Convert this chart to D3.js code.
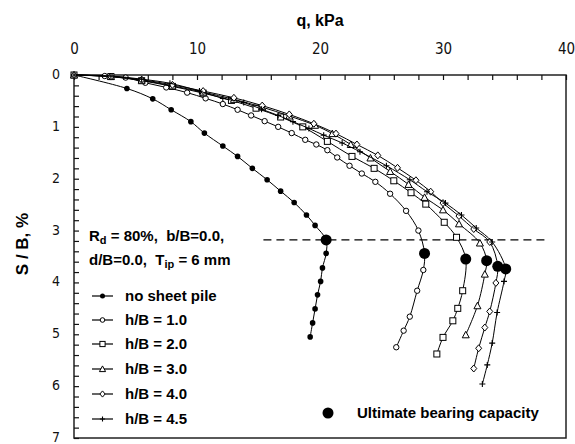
<!DOCTYPE html>
<html><head><meta charset="utf-8">
<script src="https://cdn.jsdelivr.net/npm/d3@7"></script>
<style>
body{margin:0;background:#fff;}
svg{display:block;}
text{white-space:pre;}
</style></head>
<body><svg id="c" width="575" height="444"></svg>
<script>
// ---- data ----
const xTicksMajor = [0, 10, 20, 30, 40];
const yTicksMajor = [0, 1, 2, 3, 4, 5, 6, 7];
const seriesNames = ["no sheet pile", "h/B = 1.0", "h/B = 2.0", "h/B = 3.0", "h/B = 4.0", "h/B = 4.5"];
const seriesMarkers = ["dot", "circle", "square", "triangle", "diamond", "plus"];

const q0 = [0, 4.3, 6.4, 7.9, 9.5, 10.6, 12.1, 13.3, 14.5, 15.7, 16.8, 17.9, 18.9, 19.6, 20.5, 20.5, 20.2, 20.05, 19.8, 19.6, 19.4, 19.2];
const s0 = [0, 0.26, 0.46, 0.67, 0.90, 1.12, 1.37, 1.57, 1.80, 2.02, 2.24, 2.46, 2.70, 2.90, 3.18, 3.44, 3.72, 3.98, 4.24, 4.51, 4.78, 5.05];

const q1 = [0, 2.5, 4.2, 5.8, 7.5, 9.2, 10.7, 12.1, 13.3, 14.4, 15.5, 16.6, 17.7, 18.8, 19.7, 20.6, 21.4, 22.4, 23.4, 24.5, 25.7, 27.0, 28.0, 28.5, 28.4, 27.9, 27.3, 26.8, 26.2];
const s1 = [0, 0.02, 0.05, 0.15, 0.24, 0.34, 0.45, 0.56, 0.67, 0.78, 0.89, 1.0, 1.12, 1.25, 1.34, 1.45, 1.59, 1.75, 1.90, 2.06, 2.29, 2.62, 3.0, 3.44, 3.76, 4.16, 4.66, 4.93, 5.25];

const q2 = [0, 3, 5.5, 8, 10.5, 12.8, 14.8, 16.8, 18.6, 20.6, 22.6, 24.4, 26.0, 27.4, 28.6, 30.1, 31.1, 31.85, 31.6, 31.2, 30.8, 30.0, 29.5];
const s2 = [0, 0.03, 0.11, 0.22, 0.35, 0.49, 0.64, 0.81, 1.0, 1.28, 1.57, 1.80, 2.04, 2.27, 2.49, 2.84, 3.13, 3.55, 4.16, 4.50, 4.74, 5.06, 5.38];

const q3 = [0, 3, 5.5, 8, 10.5, 13, 15.3, 17.5, 19.6, 21.0, 22.5, 24.1, 25.7, 27.2, 28.5, 30.0, 31.3, 33.0, 33.55, 33.4, 32.8, 31.85];
const s3 = [0, 0.03, 0.10, 0.21, 0.33, 0.47, 0.62, 0.79, 0.97, 1.13, 1.34, 1.60, 1.86, 2.11, 2.36, 2.60, 2.87, 3.24, 3.58, 3.84, 4.45, 5.01];

const q4 = [0, 3, 5.5, 8, 10.5, 13, 15.3, 17.5, 19.5, 21.3, 23.0, 24.7, 26.3, 27.8, 29.0, 30.0, 31.3, 32.5, 33.8, 34.45, 34.3, 33.8, 33.4, 32.9, 32.5];
const s4 = [0, 0.03, 0.09, 0.19, 0.31, 0.44, 0.59, 0.76, 0.94, 1.13, 1.34, 1.55, 1.79, 2.03, 2.25, 2.47, 2.72, 2.97, 3.22, 3.69, 4.01, 4.56, 4.87, 5.27, 5.66];

const q5 = [0, 3, 5.5, 7.8, 10.2, 12.1, 13.8, 15.25, 16.6, 17.8, 19.1, 20.3, 21.8, 23.25, 25.4, 27.3, 28.7, 30.2, 31.5, 32.7, 34.0, 35.1, 34.96, 34.4, 34.0, 33.6, 33.2];
const s5 = [0, 0.02, 0.08, 0.16, 0.31, 0.45, 0.53, 0.66, 0.78, 0.90, 1.03, 1.16, 1.31, 1.48, 1.75, 2.02, 2.25, 2.47, 2.70, 2.95, 3.22, 3.74, 3.98, 4.58, 5.17, 5.59, 5.96];

// ultimate bearing capacity points
const ultQ = [20.5, 28.5, 31.85, 33.55, 34.45, 35.1];
const ultS = [3.18, 3.44, 3.55, 3.58, 3.69, 3.74];
const dashS = 3.18;
const dashQ = [15.4, 38.5];

const allQ = [q0, q1, q2, q3, q4, q5];
const allS = [s0, s1, s2, s3, s4, s5];

// ---- drawing ----
const svg = d3.select("#c");
const L = 74, R = 566, T = 75, B = 438;
const x = d3.scaleLinear().domain([0, 40]).range([L, R]);
const y = d3.scaleLinear().domain([0, 7]).range([T, B]);
const tickFont = "'Liberation Sans Narrow','DejaVu Sans Condensed','Liberation Sans',Arial,sans-serif";
const boldFont = "'Liberation Sans',Arial,sans-serif";

// frame
svg.append("rect").attr("x", L).attr("y", T).attr("width", R - L).attr("height", B - T)
  .attr("fill", "none").attr("stroke", "#222").attr("stroke-width", 1.5);

// top axis
const xMinor = d3.range(0, 41, 2);
svg.append("g").attr("transform", `translate(0,${T})`)
  .call(d3.axisTop(x).tickValues(xMinor).tickSize(-5).tickFormat(""))
  .call(g => { g.select(".domain").remove(); g.selectAll("line").attr("stroke", "#111").attr("stroke-width", 1.2); });
svg.append("g").attr("transform", `translate(0,${T})`)
  .call(d3.axisTop(x).tickValues(xTicksMajor).tickSize(0).tickPadding(21).tickFormat(d3.format("d")))
  .call(g => { g.select(".domain").remove(); g.selectAll("text").attr("font-family", tickFont).attr("font-size", 15).attr("fill", "#111"); });

// left axis
const yMinor = d3.range(0, 7.01, 0.2);
svg.append("g").attr("transform", `translate(${L},0)`)
  .call(d3.axisLeft(y).tickValues(yMinor).tickSize(-5).tickFormat(""))
  .call(g => { g.select(".domain").remove(); g.selectAll("line").attr("stroke", "#111").attr("stroke-width", 1.2); });
svg.append("g").attr("transform", `translate(${L},0)`)
  .call(d3.axisLeft(y).tickValues(yTicksMajor).tickSize(0).tickPadding(14).tickFormat(d3.format("d")))
  .call(g => { g.select(".domain").remove(); g.selectAll("text").attr("font-family", tickFont).attr("font-size", 14).attr("dy", "0.25em").attr("fill", "#111"); });

// titles
svg.append("text").attr("x", 320).attr("y", 26).attr("text-anchor", "middle")
  .attr("font-family", boldFont).attr("font-weight", "bold").attr("font-size", 16).text("q, kPa");
svg.append("text").attr("transform", "translate(28,244) rotate(-90)").attr("text-anchor", "middle")
  .attr("font-family", boldFont).attr("font-weight", "bold").attr("font-size", 17).text("S / B, %");

// dashed line
svg.append("line").attr("x1", x(dashQ[0])).attr("x2", x(dashQ[1])).attr("y1", y(dashS)).attr("y2", y(dashS))
  .attr("stroke", "#000").attr("stroke-width", 1.3).attr("stroke-dasharray", "8,5");

// marker function
function marker(g, type, cx, cy, sz) {
  const s = sz || 3;
  if (type === "dot") g.append("circle").attr("cx", cx).attr("cy", cy).attr("r", s).attr("fill", "#000");
  else if (type === "circle") g.append("circle").attr("cx", cx).attr("cy", cy).attr("r", s - 0.3).attr("fill", "#fff").attr("stroke", "#000").attr("stroke-width", 1);
  else if (type === "square") g.append("rect").attr("x", cx - s).attr("y", cy - s).attr("width", 2 * s).attr("height", 2 * s).attr("fill", "#fff").attr("stroke", "#000").attr("stroke-width", 1);
  else if (type === "triangle") g.append("path").attr("d", `M${cx},${cy - s - 0.5}L${cx + s + 0.5},${cy + s}L${cx - s - 0.5},${cy + s}Z`).attr("fill", "#fff").attr("stroke", "#000").attr("stroke-width", 1);
  else if (type === "diamond") g.append("path").attr("d", `M${cx},${cy - s - 0.5}L${cx + s},${cy}L${cx},${cy + s + 0.5}L${cx - s},${cy}Z`).attr("fill", "#fff").attr("stroke", "#000").attr("stroke-width", 1);
  else if (type === "plus") g.append("path").attr("d", `M${cx - s},${cy}L${cx + s},${cy}M${cx},${cy - s}L${cx},${cy + s}`).attr("stroke", "#000").attr("stroke-width", 1.1);
}

const line = d3.line().x(d => x(d[0])).y(d => y(d[1])).curve(d3.curveCatmullRom.alpha(0.5));
allQ.forEach((qs, i) => {
  const pts = qs.map((q, j) => [q, allS[i][j]]);
  const g = svg.append("g");
  g.append("path").datum(pts).attr("d", line).attr("fill", "none").attr("stroke", "#000").attr("stroke-width", 1);
  pts.forEach(p => marker(g, seriesMarkers[i], x(p[0]), y(p[1]), i === 0 ? 2.8 : 3));
});

// ultimate bearing capacity dots
svg.append("g").selectAll("circle").data(ultQ.map((q, i) => [q, ultS[i]])).join("circle")
  .attr("cx", d => x(d[0])).attr("cy", d => y(d[1])).attr("r", 5.5).attr("fill", "#000");

// legend text
const leg = svg.append("g").attr("font-family", boldFont).attr("font-weight", "bold").attr("font-size", 15).attr("fill", "#000");
const t1 = leg.append("text").attr("x", 89).attr("y", 241);
t1.append("tspan").text("R");
t1.append("tspan").attr("font-size", 11).attr("dy", 3).text("d");
t1.append("tspan").attr("dy", -3).text(" = 80%,  b/B=0.0,");
const t2 = leg.append("text").attr("x", 89).attr("y", 265);
t2.append("tspan").text("d/B=0.0,  T");
t2.append("tspan").attr("font-size", 11).attr("dy", 3).text("ip");
t2.append("tspan").attr("dy", -3).text(" = 6 mm");

const legY = [296, 320, 344, 369, 394, 419];
seriesNames.forEach((n, i) => {
  const ly = legY[i];
  leg.append("line").attr("x1", 92).attr("x2", 113).attr("y1", ly).attr("y2", ly).attr("stroke", "#000").attr("stroke-width", 1.2);
  marker(leg, seriesMarkers[i], 102.5, ly, i === 0 ? 2.5 : 2.6);
  leg.append("text").attr("x", 125).attr("y", ly + 5).text(n);
});

svg.append("circle").attr("cx", 328).attr("cy", 413).attr("r", 5.5).attr("fill", "#000");
leg.append("text").attr("x", 357).attr("y", 418).text("Ultimate bearing capacity");
</script></body></html>
